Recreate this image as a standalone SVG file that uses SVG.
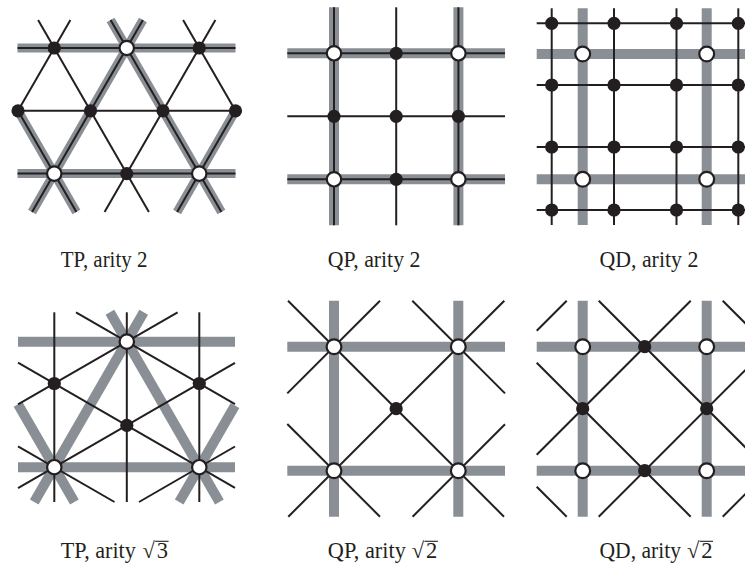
<svg xmlns="http://www.w3.org/2000/svg" width="745" height="564" viewBox="0 0 745 564">
<style>
.g{stroke:#898f94;stroke-width:10;fill:none;stroke-linecap:butt}
.g9{stroke-width:9}
.k{stroke:#231f20;stroke-width:2;fill:none}
.nb{fill:#231f20}
.nw{fill:#fff;stroke:#231f20;stroke-width:2.2}
.t{font-family:"Liberation Serif","Times New Roman",serif;font-size:22.5px;fill:#231f20}
.v{stroke:#231f20;stroke-width:1.1}
</style>
<rect width="745" height="564" fill="#fff"/>

<!-- Panel 1: TP, arity 2 -->
<g id="p1">
<g id="p1-connectors">
<g class="g g9">
<line x1="17.5" y1="48" x2="235.5" y2="48"/>
<line x1="17.5" y1="173.6" x2="235.5" y2="173.6"/>
<line x1="142.9" y1="20" x2="32.05" y2="212"/>
<line x1="110.6" y1="20" x2="221.4" y2="212"/>
<line x1="18" y1="110.8" x2="76.4" y2="212"/>
<line x1="235.5" y1="110.8" x2="177.1" y2="212"/>
</g>
<g class="k">
<line x1="17.5" y1="48" x2="235.5" y2="48"/>
<line x1="17.5" y1="110.8" x2="235.5" y2="110.8"/>
<line x1="17.5" y1="173.6" x2="235.5" y2="173.6"/>
<line x1="70.4" y1="20" x2="18" y2="110.8"/>
<line x1="142.9" y1="20" x2="32.05" y2="212"/>
<line x1="215.4" y1="20" x2="104.55" y2="212"/>
<line x1="235.5" y1="110.8" x2="177.1" y2="212"/>
<line x1="38.1" y1="20" x2="148.9" y2="212"/>
<line x1="110.6" y1="20" x2="221.4" y2="212"/>
<line x1="183.1" y1="20" x2="235.5" y2="110.8"/>
<line x1="18" y1="110.8" x2="76.4" y2="212"/>
</g>
</g>
<g id="p1-n1"><circle class="nb" cx="54.25" cy="48" r="6.6"/></g>
<g id="p1-n2"><circle class="nw" cx="126.75" cy="48" r="7.2"/></g>
<g id="p1-n3"><circle class="nb" cx="199.25" cy="48" r="6.6"/></g>
<g id="p1-n4"><circle class="nb" cx="18" cy="110.8" r="6.6"/></g>
<g id="p1-n5"><circle class="nb" cx="90.5" cy="110.8" r="6.6"/></g>
<g id="p1-n6"><circle class="nb" cx="163" cy="110.8" r="6.6"/></g>
<g id="p1-n7"><circle class="nb" cx="235.5" cy="110.8" r="6.6"/></g>
<g id="p1-n8"><circle class="nw" cx="54.25" cy="173.6" r="7.2"/></g>
<g id="p1-n9"><circle class="nb" cx="126.75" cy="173.6" r="6.6"/></g>
<g id="p1-n10"><circle class="nw" cx="199.25" cy="173.6" r="7.2"/></g>
</g>

<!-- Panel 2: QP, arity 2 -->
<g id="p2">
<g id="p2-connectors">
<g class="g">
<line x1="287.3" y1="53.3" x2="505" y2="53.3"/>
<line x1="287.3" y1="179.3" x2="505" y2="179.3"/>
<line x1="334" y1="7.3" x2="334" y2="225.3"/>
<line x1="458.4" y1="7.3" x2="458.4" y2="225.3"/>
</g>
<g class="k">
<line x1="287.3" y1="53.3" x2="505" y2="53.3"/>
<line x1="287.3" y1="116.3" x2="505" y2="116.3"/>
<line x1="287.3" y1="179.3" x2="505" y2="179.3"/>
<line x1="334" y1="7.3" x2="334" y2="225.3"/>
<line x1="396.2" y1="7.3" x2="396.2" y2="225.3"/>
<line x1="458.4" y1="7.3" x2="458.4" y2="225.3"/>
</g>
</g>
<g id="p2-n1"><circle class="nw" cx="334" cy="53.3" r="7.2"/></g>
<g id="p2-n2"><circle class="nb" cx="396.2" cy="53.3" r="6.6"/></g>
<g id="p2-n3"><circle class="nw" cx="458.4" cy="53.3" r="7.2"/></g>
<g id="p2-n4"><circle class="nb" cx="334" cy="116.3" r="6.6"/></g>
<g id="p2-n5"><circle class="nb" cx="396.2" cy="116.3" r="6.6"/></g>
<g id="p2-n6"><circle class="nb" cx="458.4" cy="116.3" r="6.6"/></g>
<g id="p2-n7"><circle class="nw" cx="334" cy="179.3" r="7.2"/></g>
<g id="p2-n8"><circle class="nb" cx="396.2" cy="179.3" r="6.6"/></g>
<g id="p2-n9"><circle class="nw" cx="458.4" cy="179.3" r="7.2"/></g>
</g>

<!-- Panel 3: QD, arity 2 -->
<g id="p3">
<g id="p3-connectors">
<g class="g">
<line x1="536.7" y1="54" x2="753" y2="54"/>
<line x1="536.7" y1="179.3" x2="753" y2="179.3"/>
<line x1="582.7" y1="8.3" x2="582.7" y2="225"/>
<line x1="706.7" y1="8.3" x2="706.7" y2="225"/>
</g>
<g class="k">
<line x1="536.7" y1="23.3" x2="753" y2="23.3"/>
<line x1="536.7" y1="85" x2="753" y2="85"/>
<line x1="536.7" y1="147" x2="753" y2="147"/>
<line x1="536.7" y1="210" x2="753" y2="210"/>
<line x1="551.7" y1="8.3" x2="551.7" y2="225"/>
<line x1="614" y1="8.3" x2="614" y2="225"/>
<line x1="676.5" y1="8.3" x2="676.5" y2="225"/>
<line x1="738.3" y1="8.3" x2="738.3" y2="225"/>
</g>
</g>
<g id="p3-n1"><circle class="nb" cx="551.7" cy="23.3" r="6.6"/></g>
<g id="p3-n2"><circle class="nb" cx="614" cy="23.3" r="6.6"/></g>
<g id="p3-n3"><circle class="nb" cx="676.5" cy="23.3" r="6.6"/></g>
<g id="p3-n4"><circle class="nb" cx="738.3" cy="23.3" r="6.6"/></g>
<g id="p3-n5"><circle class="nb" cx="551.7" cy="85" r="6.6"/></g>
<g id="p3-n6"><circle class="nb" cx="614" cy="85" r="6.6"/></g>
<g id="p3-n7"><circle class="nb" cx="676.5" cy="85" r="6.6"/></g>
<g id="p3-n8"><circle class="nb" cx="738.3" cy="85" r="6.6"/></g>
<g id="p3-n9"><circle class="nb" cx="551.7" cy="147" r="6.6"/></g>
<g id="p3-n10"><circle class="nb" cx="614" cy="147" r="6.6"/></g>
<g id="p3-n11"><circle class="nb" cx="676.5" cy="147" r="6.6"/></g>
<g id="p3-n12"><circle class="nb" cx="738.3" cy="147" r="6.6"/></g>
<g id="p3-n13"><circle class="nb" cx="551.7" cy="210" r="6.6"/></g>
<g id="p3-n14"><circle class="nb" cx="614" cy="210" r="6.6"/></g>
<g id="p3-n15"><circle class="nb" cx="676.5" cy="210" r="6.6"/></g>
<g id="p3-n16"><circle class="nb" cx="738.3" cy="210" r="6.6"/></g>
<g id="p3-n17"><circle class="nw" cx="582.7" cy="54" r="7.4"/></g>
<g id="p3-n18"><circle class="nw" cx="706.7" cy="54" r="7.4"/></g>
<g id="p3-n19"><circle class="nw" cx="582.7" cy="179.3" r="7.4"/></g>
<g id="p3-n20"><circle class="nw" cx="706.7" cy="179.3" r="7.4"/></g>
</g>

<!-- Panel 4: TP, arity sqrt3 -->
<g id="p4">
<g id="p4-connectors">
<g class="g">
<line x1="18" y1="341.64" x2="235" y2="341.64"/>
<line x1="18" y1="467.22" x2="235" y2="467.22"/>
<line x1="143.7" y1="312.3" x2="34.2" y2="502"/>
<line x1="109.9" y1="312.3" x2="219.4" y2="502"/>
<line x1="18" y1="404.35" x2="74.4" y2="502"/>
<line x1="235" y1="405.4" x2="179.2" y2="502"/>
</g>
<g class="k">
<line x1="54.3" y1="312.3" x2="54.3" y2="502"/>
<line x1="126.8" y1="312.3" x2="126.8" y2="502"/>
<line x1="199.3" y1="312.3" x2="199.3" y2="502"/>
<line x1="18" y1="362.54" x2="235" y2="487.8"/>
<line x1="76" y1="312.3" x2="235" y2="404.1"/>
<line x1="18" y1="446.3" x2="114.5" y2="502"/>
<line x1="18" y1="404.46" x2="177.6" y2="312.3"/>
<line x1="18" y1="488.2" x2="235" y2="362.9"/>
<line x1="139" y1="502" x2="235" y2="446.5"/>
</g>
</g>
<g id="p4-n1"><circle class="nw" cx="126.8" cy="341.64" r="7.2"/></g>
<g id="p4-n2"><circle class="nb" cx="54.3" cy="383.5" r="6.6"/></g>
<g id="p4-n3"><circle class="nb" cx="199.3" cy="383.5" r="6.6"/></g>
<g id="p4-n4"><circle class="nb" cx="126.8" cy="425.36" r="6.6"/></g>
<g id="p4-n5"><circle class="nw" cx="54.3" cy="467.22" r="7.2"/></g>
<g id="p4-n6"><circle class="nw" cx="199.3" cy="467.22" r="7.2"/></g>
</g>

<!-- Panel 5: QP, arity sqrt2 -->
<g id="p5">
<g id="p5-connectors">
<g class="g">
<line x1="287.3" y1="346.7" x2="505" y2="346.7"/>
<line x1="287.3" y1="470.7" x2="505" y2="470.7"/>
<line x1="334" y1="300.7" x2="334" y2="516.7"/>
<line x1="458.3" y1="300.7" x2="458.3" y2="516.7"/>
</g>
<g class="k">
<line x1="288" y1="300.7" x2="504" y2="516.7"/>
<line x1="412.3" y1="300.7" x2="505" y2="393.4"/>
<line x1="287.3" y1="424" x2="380" y2="516.7"/>
<line x1="380" y1="300.7" x2="287.3" y2="393.4"/>
<line x1="504.3" y1="300.7" x2="288.3" y2="516.7"/>
<line x1="505" y1="424.3" x2="412.6" y2="516.7"/>
</g>
</g>
<g id="p5-n1"><circle class="nw" cx="334" cy="346.7" r="7.4"/></g>
<g id="p5-n2"><circle class="nw" cx="458.3" cy="346.7" r="7.4"/></g>
<g id="p5-n3"><circle class="nb" cx="396.15" cy="408.7" r="6.6"/></g>
<g id="p5-n4"><circle class="nw" cx="334" cy="470.7" r="7.4"/></g>
<g id="p5-n5"><circle class="nw" cx="458.3" cy="470.7" r="7.4"/></g>
</g>

<!-- Panel 6: QD, arity sqrt2 -->
<g id="p6">
<g id="p6-connectors">
<g class="g">
<line x1="536.7" y1="346.7" x2="753" y2="346.7"/>
<line x1="536.7" y1="470.7" x2="753" y2="470.7"/>
<line x1="582.7" y1="300.7" x2="582.7" y2="516.7"/>
<line x1="706.7" y1="300.7" x2="706.7" y2="516.7"/>
</g>
<g class="k">
<line x1="566.7" y1="300.7" x2="536.7" y2="330.7"/>
<line x1="690.7" y1="300.7" x2="536.7" y2="454.7"/>
<line x1="753" y1="362.4" x2="598.7" y2="516.7"/>
<line x1="753" y1="486.4" x2="722.7" y2="516.7"/>
<line x1="722.7" y1="300.7" x2="753" y2="331"/>
<line x1="598.7" y1="300.7" x2="753" y2="455"/>
<line x1="536.7" y1="362.7" x2="690.7" y2="516.7"/>
<line x1="536.7" y1="486.7" x2="566.7" y2="516.7"/>
</g>
</g>
<g id="p6-n1"><circle class="nw" cx="582.7" cy="346.7" r="7.4"/></g>
<g id="p6-n2"><circle class="nb" cx="644.7" cy="346.7" r="6.6"/></g>
<g id="p6-n3"><circle class="nw" cx="706.7" cy="346.7" r="7.4"/></g>
<g id="p6-n4"><circle class="nb" cx="582.7" cy="408.7" r="6.6"/></g>
<g id="p6-n5"><circle class="nb" cx="706.7" cy="408.7" r="6.6"/></g>
<g id="p6-n6"><circle class="nw" cx="582.7" cy="470.7" r="7.4"/></g>
<g id="p6-n7"><circle class="nb" cx="644.7" cy="470.7" r="6.6"/></g>
<g id="p6-n8"><circle class="nw" cx="706.7" cy="470.7" r="7.4"/></g>
</g>

<!-- Labels -->
<g id="labels">
<text class="t" x="60.8" y="267" textLength="86.6" lengthAdjust="spacingAndGlyphs">TP, arity 2</text>
<text class="t" x="327.8" y="267" textLength="92.6" lengthAdjust="spacingAndGlyphs">QP, arity 2</text>
<text class="t" x="599.5" y="267" textLength="98.8" lengthAdjust="spacingAndGlyphs">QD, arity 2</text>

<text class="t" x="60.8" y="558" textLength="75" lengthAdjust="spacingAndGlyphs">TP, arity</text>
<text class="t" x="142.5" y="558">√</text>
<text class="t" x="156.8" y="558">3</text>
<line class="v" x1="155.2" y1="541.3" x2="168.6" y2="541.3"/>

<text class="t" x="327.8" y="558" textLength="78" lengthAdjust="spacingAndGlyphs">QP, arity</text>
<text class="t" x="411.8" y="558">√</text>
<text class="t" x="426.1" y="558">2</text>
<line class="v" x1="424.5" y1="541.3" x2="437.9" y2="541.3"/>

<text class="t" x="599.5" y="558" textLength="81.5" lengthAdjust="spacingAndGlyphs">QD, arity</text>
<text class="t" x="686.9" y="558">√</text>
<text class="t" x="701.2" y="558">2</text>
<line class="v" x1="699.6" y1="541.3" x2="713" y2="541.3"/>
</g>
</svg>
